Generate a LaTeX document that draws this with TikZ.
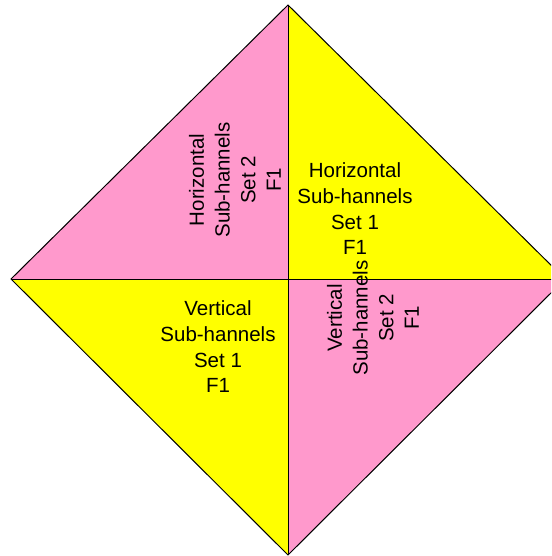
\documentclass[tikz,border=0pt]{standalone}
\usepackage{fontspec}
\setmainfont{Liberation Sans}
\definecolor{pinkfill}{HTML}{FF99CC}
\definecolor{yellowfill}{HTML}{FFFF00}
\begin{document}
\begin{tikzpicture}[x=1pt,y=-1pt,
  tri/.style={draw=black,line width=1pt,line join=miter},
  lbl/.style={align=center,font=\fontsize{20.5}{25.7}\selectfont,inner sep=0pt}]
\useasboundingbox (0,0) rectangle (551,556);
\clip (0,0) rectangle (551,556);
\coordinate (T) at (288,5);
\coordinate (L) at (11,279);
\coordinate (B) at (288,555);
\coordinate (R) at (565,279);
\coordinate (C) at (288,279);
\fill[pinkfill] (T) -- (L) -- (C) -- cycle;
\fill[yellowfill] (T) -- (R) -- (C) -- cycle;
\fill[yellowfill] (L) -- (B) -- (C) -- cycle;
\fill[pinkfill] (R) -- (B) -- (C) -- cycle;
\draw[tri] (T) -- (R) -- (B) -- (L) -- cycle;
\draw[tri] (L) -- (R);
\draw[tri] (T) -- (B);
\node[lbl] (hs1) at (355,209) {Horizontal\\Sub-hannels\\Set 1\\F1};
\node[lbl] (vs1) at (218,347) {Vertical\\Sub-hannels\\Set 1\\F1};
\node[lbl,rotate=90] (hs2) at (235,180) {Horizontal\\Sub-hannels\\Set 2\\F1};
\node[lbl,rotate=90] (vs2) at (373,318) {Vertical\\Sub-hannels\\Set 2\\F1};
\end{tikzpicture}
\end{document}
